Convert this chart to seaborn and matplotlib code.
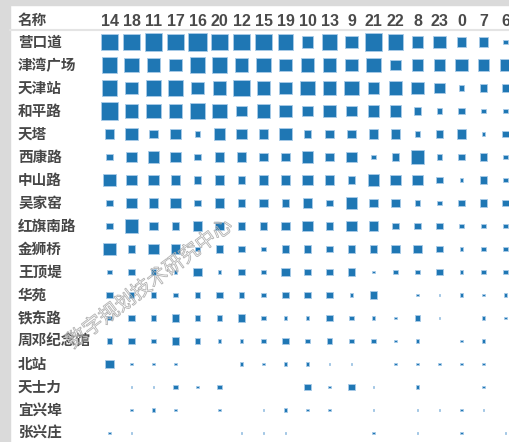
import matplotlib
matplotlib.use('Agg')
import matplotlib.pyplot as plt
import matplotlib.patheffects as pe
from matplotlib.patches import Rectangle
from matplotlib.lines import Line2D
from matplotlib.transforms import blended_transform_factory
import pandas as pd
import seaborn as sns

#%% 数据（按时段的方块面积读数，0 = 无）
hours = ['14', '18', '11', '17', '16', '20', '12', '15', '19', '10',
         '13', '9', '21', '22', '8', '23', '0', '7', '6']
stations = ['营口道', '津湾广场', '天津站', '和平路', '天塔', '西康路', '中山路',
            '吴家窑', '红旗南路', '金狮桥', '王顶堤', '华苑', '铁东路',
            '周邓纪念馆', '北站', '天士力', '宜兴埠', '张兴庄']

v_yingkoudao = [289, 289, 324, 289, 361, 289, 289, 289, 256, 144, 256, 169, 324, 256, 144, 169, 100, 100, 25]
v_jinwan = [256, 225, 196, 169, 256, 256, 196, 225, 169, 196, 196, 169, 225, 121, 144, 144, 169, 144, 144]
v_tianjinzhan = [256, 169, 256, 256, 169, 196, 289, 196, 169, 225, 196, 225, 144, 196, 169, 121, 36, 64, 64]
v_hepinglu = [324, 196, 225, 196, 256, 225, 121, 196, 169, 121, 169, 121, 144, 144, 64, 36, 49, 25, 25]
v_tianta = [100, 169, 81, 121, 36, 144, 121, 100, 169, 64, 81, 81, 100, 100, 36, 64, 100, 16, 49]
v_xikanglu = [49, 121, 144, 121, 49, 100, 100, 81, 81, 144, 81, 121, 25, 64, 196, 36, 49, 64, 25]
v_zhongshanlu = [169, 121, 121, 100, 64, 100, 64, 100, 100, 121, 100, 64, 144, 121, 121, 49, 16, 64, 25]
v_wujiayao = [49, 121, 100, 121, 49, 100, 64, 81, 64, 100, 49, 144, 81, 81, 36, 25, 49, 64, 49]
v_hongqinanlu = [49, 196, 81, 64, 100, 81, 64, 64, 81, 121, 64, 121, 100, 49, 49, 49, 25, 25, 25]
v_jinshiqiao = [169, 64, 121, 100, 25, 64, 49, 25, 64, 64, 49, 64, 64, 81, 81, 49, 16, 25, 25]
v_wangdingdi = [25, 49, 36, 16, 81, 16, 49, 25, 81, 49, 49, 64, 9, 25, 25, 49, 16, 25, 25]
v_huayuan = [49, 36, 36, 25, 36, 49, 36, 25, 49, 49, 49, 16, 64, 0, 9, 4, 16, 9, 16]
v_tiedonglu = [25, 49, 36, 64, 36, 36, 64, 25, 16, 16, 49, 25, 16, 9, 36, 4, 0, 16, 9]
v_zhoudeng = [36, 49, 25, 64, 36, 16, 16, 25, 49, 25, 36, 25, 25, 9, 16, 0, 9, 16, 0]
v_beizhan = [81, 9, 9, 9, 0, 0, 16, 9, 16, 16, 4, 4, 0, 9, 9, 9, 9, 9, 0]
v_tianshili = [0, 4, 4, 25, 9, 25, 0, 0, 0, 49, 9, 49, 4, 0, 16, 0, 0, 9, 0]
v_yixingbu = [0, 9, 16, 9, 0, 9, 0, 4, 16, 9, 9, 0, 4, 0, 4, 4, 9, 4, 0]
v_zhangxingzhuang = [9, 4, 0, 0, 0, 0, 4, 4, 4, 0, 0, 0, 9, 0, 4, 0, 9, 0, 4]

rows = [v_yingkoudao, v_jinwan, v_tianjinzhan, v_hepinglu, v_tianta, v_xikanglu,
        v_zhongshanlu, v_wujiayao, v_hongqinanlu, v_jinshiqiao, v_wangdingdi,
        v_huayuan, v_tiedonglu, v_zhoudeng, v_beizhan, v_tianshili, v_yixingbu,
        v_zhangxingzhuang]

records = []
for name, vals in zip(stations, rows):
    for h, v in zip(hours, vals):
        records.append({'名称': name, '时段': h, '值': v})
df = pd.DataFrame(records)
df = df[df['值'] > 0]

#%% 画图
sns.set_theme(style='white')
plt.rcParams['font.family'] = ['Noto Sans CJK SC', 'DejaVu Sans']

W, H = 510, 442
fig = plt.figure(figsize=(W / 100, H / 100), dpi=100)

# 灰色边框（截图的左边和上边）
fig.patches.append(Rectangle((0, 0), 10 / W, 1, transform=fig.transFigure,
                             color='#dadada', zorder=0))
fig.patches.append(Rectangle((0, 1 - 5 / H), 1, 5 / H, transform=fig.transFigure,
                             color='#dadada', zorder=0))
fig.add_artist(Line2D([10 / W, 1], [1 - 30 / H] * 2, transform=fig.transFigure,
                      color='#e4e4e4', lw=1.5))

col_w, row_h = 22, 23
left_px, top_px = 98.5, 30.5
ax = fig.add_axes([left_px / W, 0, (W - left_px) / W, (H - top_px) / H])

vmax = 361
sns.scatterplot(data=df, x='时段', y='名称', size='值', size_norm=(0, vmax),
                sizes=(0, 0.48 * vmax), marker='s', color='#1f77b4',
                edgecolor='#a9cbe8', linewidth=0.6, legend=False,
                clip_on=False, ax=ax)

ax.set_xlim(-0.5, -0.5 + (W - left_px) / col_w)
ax.set_ylim(-0.5 + (H - top_px) / row_h, -0.5)
ax.set_axis_off()

# 行标签和表头
trans_y = blended_transform_factory(fig.transFigure, ax.transData)
for i, name in enumerate(stations):
    ax.text(18 / W, i, name, transform=trans_y, ha='left', va='center',
            fontsize=10.5, color='#474747', fontweight='bold')
fig.text(18 / W, 1 - 25.5 / H, '名称', ha='left', va='baseline',
         fontsize=10.5, color='#474747', fontweight='bold')

trans_x = blended_transform_factory(ax.transData, fig.transFigure)
for j, h in enumerate(hours):
    ax.text(j, 1 - 26 / H, h, transform=trans_x, ha='center', va='baseline',
            fontsize=11.5, color='#4a4a4a', fontweight='bold',
            family=['Liberation Sans', 'DejaVu Sans'])

# 水印
fig.text(150 / W, 1 - 284 / H, '数字规划技术研究中心', ha='center', va='center',
         rotation=37, fontsize=14.5, color=(1, 1, 1, 0),
         path_effects=[pe.Stroke(linewidth=0.6, foreground='#b0b0b0')])

fig.savefig('out.png', dpi=100)
